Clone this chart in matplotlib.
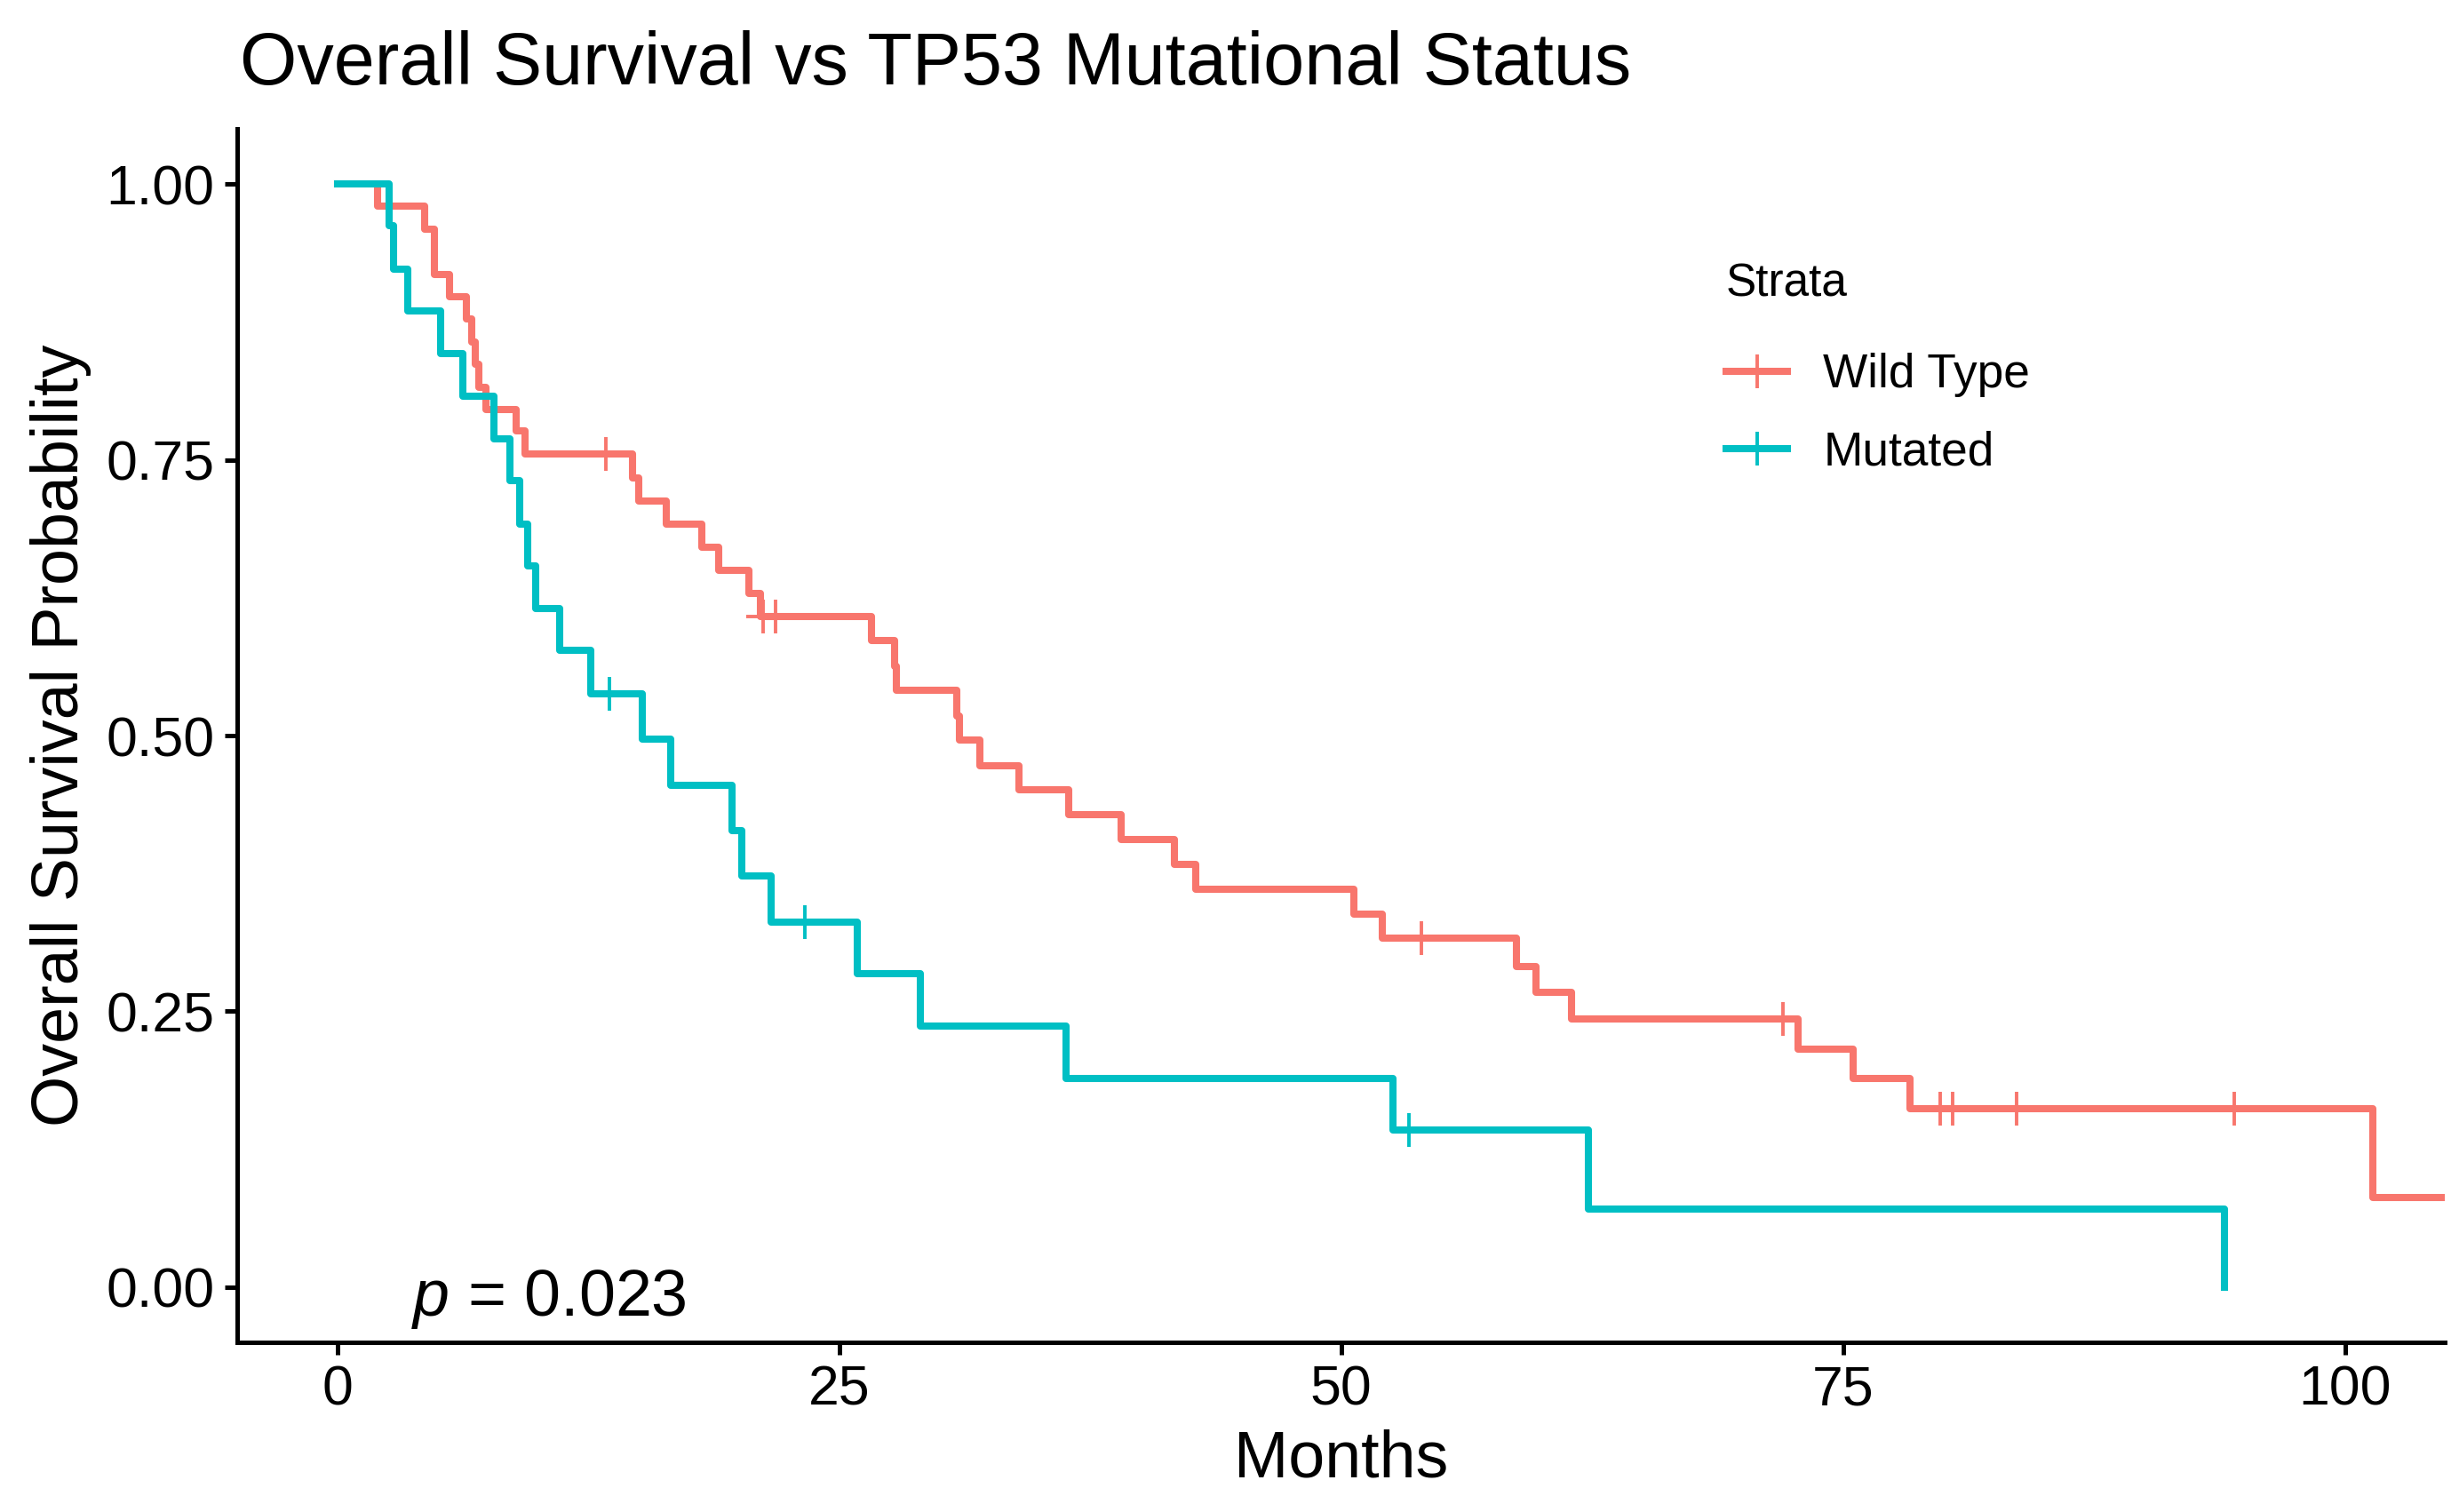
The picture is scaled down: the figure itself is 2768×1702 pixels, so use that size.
import matplotlib
matplotlib.use("Agg")
import matplotlib.pyplot as plt
from matplotlib.lines import Line2D

RED, TEAL = "#F8766D", "#00BFC4"

plt.rcParams.update({
    "font.family": ["Liberation Sans", "DejaVu Sans"],
    "mathtext.fontset": "custom",
    "mathtext.rm": "Liberation Sans",
    "mathtext.it": "Liberation Sans:italic",
})

# Kaplan-Meier steps (months, survival after step)
wt_time = [0, 2.0, 4.35, 4.85, 5.6, 6.45, 6.7, 6.9, 7.05, 7.4,
           8.9, 9.35, 14.7, 15.0, 16.4, 18.15, 19.0, 20.5, 21.1, 26.6,
           27.75, 27.85, 30.85, 31.0, 32.0, 33.95, 36.45, 39.05, 41.7, 42.75,
           50.65, 52.05, 58.75, 59.7, 61.5, 72.75, 75.5, 78.35, 101.4, 105.0]
wt_surv = [1.0, 0.980, 0.959, 0.918, 0.898, 0.878, 0.857, 0.837, 0.816, 0.796,
           0.776, 0.755, 0.734, 0.713, 0.692, 0.671, 0.650, 0.629, 0.608, 0.586,
           0.563, 0.541, 0.518, 0.496, 0.473, 0.451, 0.428, 0.406, 0.383, 0.361,
           0.338, 0.316, 0.291, 0.267, 0.243, 0.216, 0.189, 0.162, 0.081, 0.081]
wt_cens_time = [13.4, 21.2, 21.85, 54.0, 72.0, 79.85, 80.45, 83.65, 94.5]
wt_cens_surv = [0.755, 0.608, 0.608, 0.316, 0.243, 0.162, 0.162, 0.162, 0.162]

mu_time = [0, 2.6, 2.8, 3.5, 5.15, 6.25, 7.8, 8.6, 9.1, 9.5, 9.9, 11.1,
           12.65, 15.2, 16.6, 19.65, 20.15, 21.6, 25.9, 29.05, 36.3, 52.6,
           62.3, 94.0]
mu_surv = [1.0, 0.962, 0.923, 0.885, 0.846, 0.808, 0.769, 0.731, 0.692, 0.654,
           0.615, 0.577, 0.538, 0.497, 0.455, 0.414, 0.373, 0.331, 0.284, 0.237,
           0.189, 0.142, 0.071, 0.0]
mu_cens_time = [13.57, 23.3, 53.4]
mu_cens_surv = [0.538, 0.331, 0.142]

x_ticks = [0, 25, 50, 75, 100]
y_ticks = [0.0, 0.25, 0.50, 0.75, 1.00]
y_labels = ["0.00", "0.25", "0.50", "0.75", "1.00"]

fig = plt.figure(figsize=(13.84, 8.51), dpi=200)
ax = fig.add_axes([0.0963, 0.1123, 0.8981, 0.8024])

LW, MS, MEW = 2.9, 13.5, 1.4
for t, s, ct, cs, col in ((wt_time, wt_surv, wt_cens_time, wt_cens_surv, RED),
                          (mu_time, mu_surv, mu_cens_time, mu_cens_surv, TEAL)):
    ax.step(t, s, where="post", color=col, lw=LW)
    ax.plot(ct, cs, ls="none", marker="+", ms=MS, mew=MEW, color=col)

ax.set_xlim(-5, 105)
ax.set_ylim(-0.05, 1.05)
ax.set_xticks(x_ticks)
ax.set_yticks(y_ticks, y_labels)
for side in ("top", "right"):
    ax.spines[side].set_visible(False)
for side in ("left", "bottom"):
    ax.spines[side].set_linewidth(1.8)
ax.tick_params(length=5, width=1.8, labelsize=22.5, pad=4, colors="black")

ax.set_xlabel("Months", fontsize=26.5, labelpad=5)
ax.set_ylabel("Overall Survival Probability", fontsize=26.5, labelpad=6)
fig.text(0.0975, 0.957, "Overall Survival vs TP53 Mutational Status",
         fontsize=29.8, va="center", ha="left")

ax.text(3.7, -0.026, "$p$ = 0.023", fontsize=26.5, va="baseline", ha="left")

handles = [Line2D([], [], color=RED, lw=LW, marker="+", ms=MS, mew=MEW),
           Line2D([], [], color=TEAL, lw=LW, marker="+", ms=MS, mew=MEW)]
leg = ax.legend(handles, ["Wild Type", "Mutated"], title="Strata",
                loc="upper left", bbox_to_anchor=(0.655, 0.925), frameon=False,
                fontsize=19.2, title_fontsize=18.5, handlelength=1.3,
                handletextpad=0.75, labelspacing=0.7)
leg._legend_box.align = "left"
leg._legend_box.sep = 19   # a little more room under the title

fig.savefig("out.png", dpi=200)
